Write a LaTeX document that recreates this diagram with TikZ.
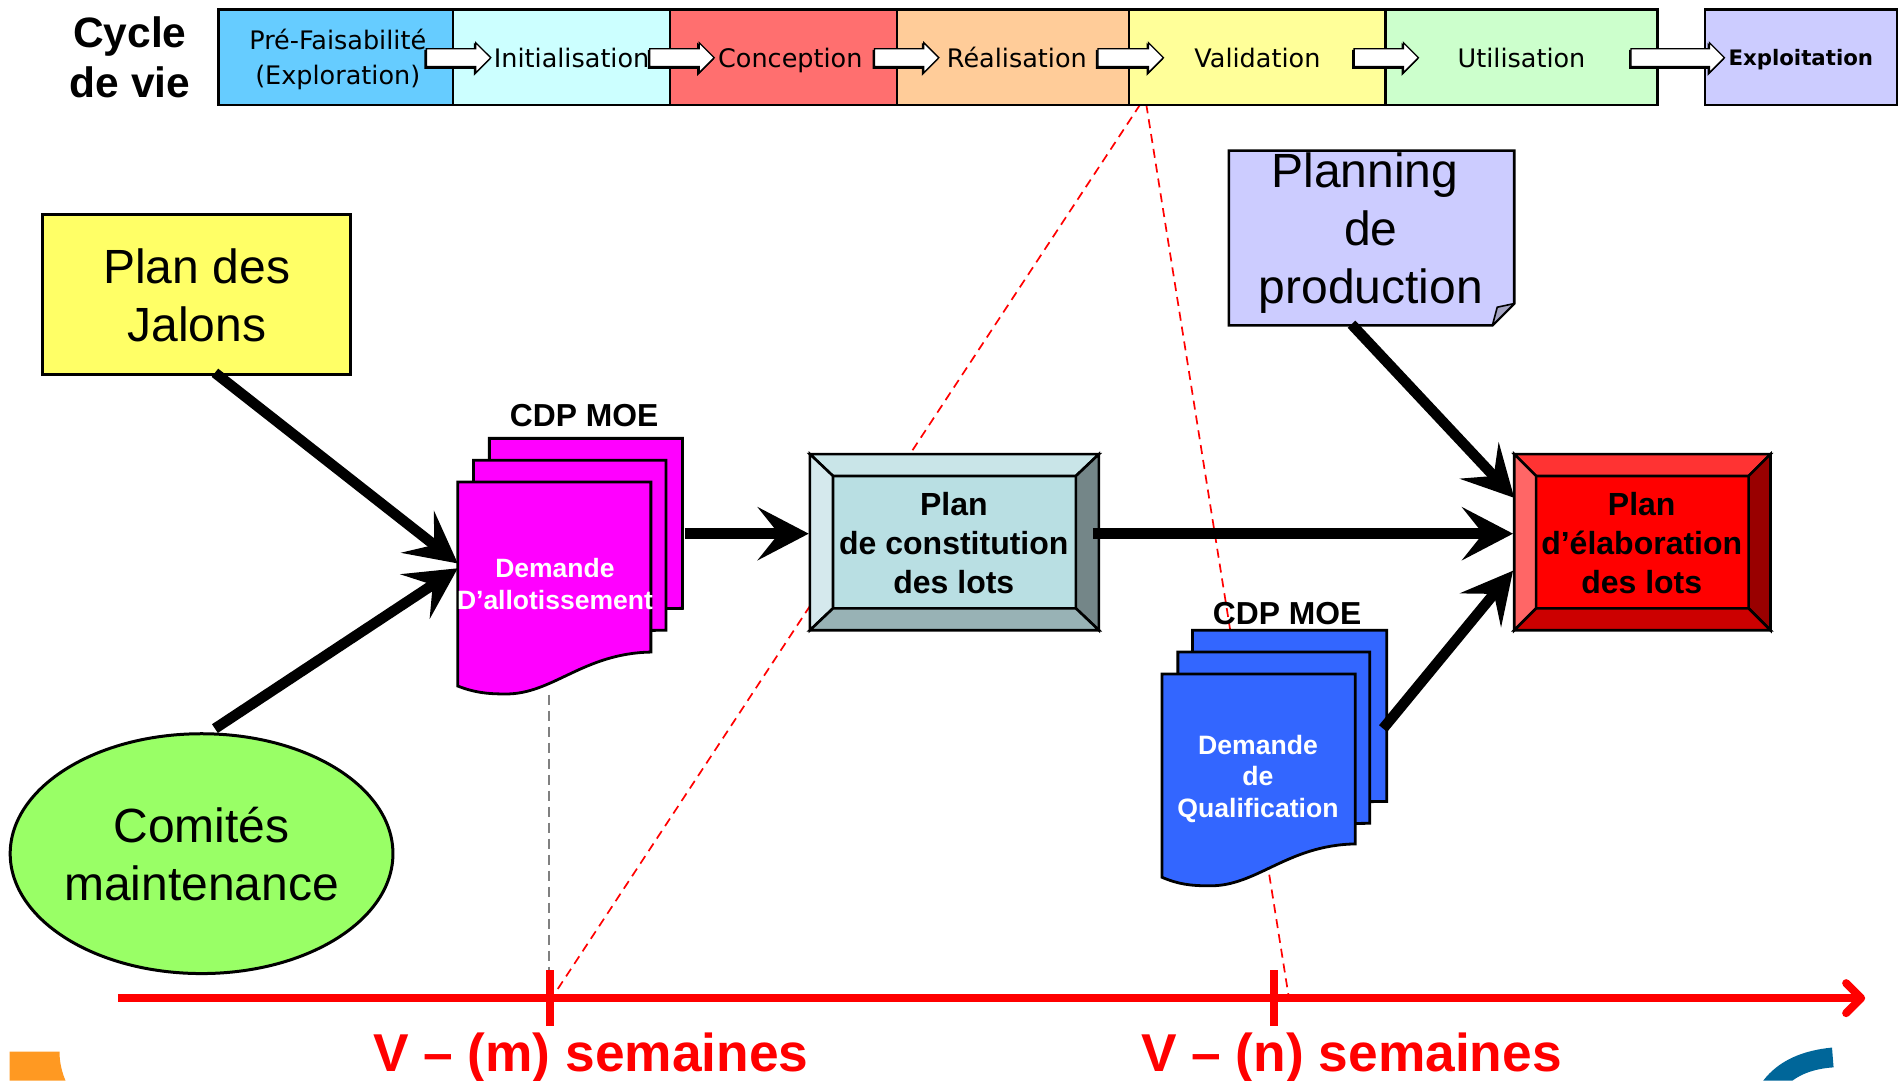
\documentclass[tikz,border=0pt]{standalone}
\usepackage{fontspec}
\setmainfont{Liberation Sans}
\newfontfamily\vfont{DejaVu Sans}
\usetikzlibrary{arrows.meta,shapes.geometric,shapes.arrows,shadows}
\newcommand\fsz[2]{\fontsize{#1pt}{#2pt}\selectfont}
\definecolor{cPre}{HTML}{66CCFF}
\definecolor{cIni}{HTML}{CCFFFF}
\definecolor{cCon}{HTML}{FF6F6F}
\definecolor{cRea}{HTML}{FFCC99}
\definecolor{cVal}{HTML}{FFFF99}
\definecolor{cUti}{HTML}{CCFFCC}
\definecolor{cExp}{HTML}{CCCCFF}
\definecolor{cYel}{HTML}{FFFF66}
\definecolor{cGrn}{HTML}{99FF66}
\definecolor{cMag}{HTML}{FF00FF}
\definecolor{cBlu}{HTML}{3366FF}
\definecolor{cFold}{HTML}{A3A3C2}
\tikzset{
  phase/.style={draw=black,line width=2.2pt,inner sep=0pt,minimum height={78.5*1.2143pt},font=\vfont\fsz{25.5}{35},align=center,text=black},
  oneline/.style={text height=20pt,text depth=0pt},
  blockarrow/.style={single arrow,draw=black,fill=white,line width=1.3pt,inner sep=0pt,inner ysep=8pt,
     single arrow head extend=6pt,single arrow tip angle=90,
     copy shadow={shadow xshift=-1.3pt,shadow yshift=-1.6pt,fill=black,draw=black}},
  bigtext/.style={font=\fsz{48}{58},align=center,text=black},
  plain/.style={draw=black,line width=3pt,inner sep=0pt},
  sheet/.style={draw=black,line width=2.8pt,line join=miter},
  doctext/.style={font=\bfseries\fsz{26.5}{31.6},text=white,align=center,inner sep=0pt},
  cdp/.style={font=\bfseries\fsz{31.8}{38},text=black,inner sep=0pt},
  bevtext/.style={font=\bfseries\fsz{32}{38.9},text=black,align=center,inner sep=0pt},
  bevel/.style={draw=black,line width=2.6pt,line join=miter},
  bigarrow/.style={draw=black,line width=10.5pt,-{Stealth[length=51pt,width=53pt,inset=21pt]}},
  reddash/.style={draw=red,line width=1.7pt,dash pattern=on 9pt off 6pt},
  greydash/.style={draw=gray,line width=2pt,dash pattern=on 10pt off 6pt},
  axisline/.style={draw=red,line width=8pt},
  ticks/.style={draw=red,line width=8pt},
  weeks/.style={font=\bfseries\fsz{53.3}{60},text=red,anchor=base,inner sep=0pt},
}
\begin{document}
\begin{tikzpicture}[x=1.2143pt,y=-1.2143pt]
\useasboundingbox (0,0) rectangle (1568,890);
\clip (0,0) rectangle (1568,890);

% logo fragments at the lower edge
\fill[color={rgb,255:red,255;green,153;blue,34}] (8,866) -- (49,866) .. controls (49,875) and (51,883) .. (54,890) -- (8,890) -- cycle;
\fill[color={rgb,255:red,0;green,102;blue,153}] (1508.7,862.7) -- (1510,879) .. controls (1495,880) and (1484,884) .. (1476,890) -- (1452,890) .. controls (1465,873) and (1485,865) .. (1508.7,862.7) -- cycle;

% dashed guide lines (behind everything)
\coordinate (rA) at (939,86);
\coordinate (rB) at (457,818);
\coordinate (rC) at (944,86);
\coordinate (rD) at (1061,819);
\coordinate (gA) at (452,572);
\coordinate (gB) at (452,799);
\draw[reddash] (rA) -- (rB);
\draw[reddash] (rC) -- (rD);
\draw[greydash] (gA) -- (gB);

% life-cycle strip
\node[phase,fill=cPre,minimum width={193*1.2143pt}] (p1) at (276.5,47) {\rule{0pt}{24.6pt}\hspace*{4pt}Pré-Faisabilité\\\hspace*{4pt}(Exploration)};
\node[phase,oneline,fill=cIni,minimum width={179*1.2143pt}] (p2) at (462.5,47) {\hspace*{20pt}Initialisation};
\node[phase,oneline,fill=cCon,minimum width={187*1.2143pt}] (p3) at (645.5,47) {\hspace*{13pt}Conception};
\node[phase,oneline,fill=cRea,minimum width={191*1.2143pt}] (p4) at (834.5,47) {\hspace*{7pt}Réalisation};
\node[phase,oneline,fill=cVal,minimum width={211*1.2143pt}] (p5) at (1035.5,47) {Validation};
\node[phase,oneline,fill=cUti,minimum width={224*1.2143pt}] (p6) at (1253,47) {Utilisation};
\node[phase,fill=cExp,minimum width={158*1.2143pt},font=\vfont\bfseries\fsz{21.3}{26},text height=16.5pt,text depth=0pt] (p7) at (1483,47) {Exploitation};
\node[blockarrow,minimum width=30pt,minimum height={53*1.2143pt}] (a1) at (374,47.5) {};
\node[blockarrow,minimum width=30pt,minimum height={53*1.2143pt}] (a2) at (558,47.5) {};
\node[blockarrow,minimum width=30pt,minimum height={53*1.2143pt}] (a3) at (743,47.5) {};
\node[blockarrow,minimum width=30pt,minimum height={54*1.2143pt}] (a4) at (927.5,47.5) {};
\node[blockarrow,minimum width=30pt,minimum height={53*1.2143pt}] (a5) at (1138,47.5) {};
\node[blockarrow,minimum width=30pt,minimum height={77*1.2143pt}] (a6) at (1378,47.5) {};
\node[font=\bfseries\fsz{42.5}{50},align=center,inner sep=0pt] (cycle) at (107,47.5) {Cycle\\de vie};

% sources
\node[plain,fill=cYel,bigtext,minimum width={254*1.2143pt},minimum height={131*1.2143pt}] (jal) at (162,242.5) {\rule{0pt}{37.4pt}Plan des\\Jalons};
\node[plain,ellipse,fill=cGrn,bigtext,inner xsep=-2.1pt,minimum height={197.5*1.2143pt}] (com) at (166,703) {Comités\\maintenance};
\filldraw[fill=cExp,draw=black,line width=2.6pt,line join=miter] (1012,124) -- (1247,124) -- (1247,250) -- (1229,268) -- (1012,268) -- cycle;
\filldraw[fill=cFold,draw=black,line width=1.6pt,line join=round] (1247,250) -- (1233,253) -- (1229,268) -- cycle;
\node[bigtext,inner sep=0pt] (pln) at (1129,192) {Planning\hspace*{12pt}\\de\\production};

% magenta document stack
\filldraw[sheet,fill=cMag] (403,361) -- (562,361) -- (562,501) -- (403,503) -- cycle;
\filldraw[sheet,fill=cMag] (390,379) -- (548.5,379) -- (548.5,519) -- (390,521) -- cycle;
\filldraw[sheet,fill=cMag] (377,397) -- (536,397) -- (536,537) .. controls (480,538) and (455,572) .. (416,571.5) .. controls (400,571.5) and (390,570) .. (377,565) -- cycle;
\node[doctext] (dal) at (457,481) {Demande\\D’allotissement};
\node[cdp] (cdpa) at (481,342) {CDP MOE};

% blue document stack
\filldraw[sheet,fill=cBlu] (982,519) -- (1142,519) -- (1142,660) -- (982,662) -- cycle;
\filldraw[sheet,fill=cBlu] (970,537) -- (1128,537) -- (1128,678) -- (970,680) -- cycle;
\filldraw[sheet,fill=cBlu] (957,555) -- (1116,555) -- (1116,695) .. controls (1060,696) and (1035,730) .. (996,729.5) .. controls (980,729.5) and (970,728) .. (957,722.5) -- cycle;
\node[doctext,font=\bfseries\fsz{26.6}{31.6}] (dql) at (1036,641.5) {Demande\\de\\Qualification};
\node[cdp] (cdpb) at (1060,505) {CDP MOE};

% bevelled box: Plan de constitution
\fill[color={rgb,255:red,185;green,223;blue,227}] (667,374) rectangle (905,519);
\filldraw[bevel,fill={rgb,255:red,201;green,229;blue,232}] (667,374) -- (905,374) -- (886,392) -- (686,392) -- cycle;
\filldraw[bevel,fill={rgb,255:red,213;green,233;blue,237}] (667,374) -- (686,392) -- (686,501) -- (667,519) -- cycle;
\filldraw[bevel,fill={rgb,255:red,116;green,134;blue,136}] (905,374) -- (886,392) -- (886,501) -- (905,519) -- cycle;
\filldraw[bevel,fill={rgb,255:red,152;green,178;blue,181}] (667,519) -- (686,501) -- (886,501) -- (905,519) -- cycle;
\node[bevtext] (pcl) at (785.5,447.2) {Plan\\de constitution\\des lots};

% bevelled box: Plan d'élaboration
\fill[red] (1247,374) rectangle (1458,519);
\filldraw[bevel,fill={rgb,255:red,255;green,51;blue,51}] (1247,374) -- (1458,374) -- (1440,392) -- (1265,392) -- cycle;
\filldraw[bevel,fill={rgb,255:red,255;green,102;blue,102}] (1247,374) -- (1265,392) -- (1265,501) -- (1247,519) -- cycle;
\filldraw[bevel,fill={rgb,255:red,153;green,0;blue,0}] (1458,374) -- (1440,392) -- (1440,501) -- (1458,519) -- cycle;
\filldraw[bevel,fill={rgb,255:red,204;green,0;blue,0}] (1247,519) -- (1265,501) -- (1440,501) -- (1458,519) -- cycle;
\node[bevtext] (pel) at (1352,447.2) {Plan\\d’élaboration\\des lots};

% thick connectors
\coordinate (jalOut) at (177,307);
\coordinate (comOut) at (177,600);
\coordinate (dalInA) at (377,464);
\coordinate (dalInB) at (377,468);
\coordinate (dalOut) at (564,439.5);
\coordinate (pclIn) at (666,439.5);
\coordinate (pclOut) at (900,439.5);
\coordinate (pelInB) at (1246,439.5);
\coordinate (plnOut) at (1113,267);
\coordinate (pelInA) at (1247,410);
\coordinate (dqlOut) at (1139,600);
\coordinate (pelInC) at (1246,470);
\draw[bigarrow] (jalOut) -- (dalInA);
\draw[bigarrow] (comOut) -- (dalInB);
\draw[bigarrow] (dalOut) -- (pclIn);
\draw[bigarrow] (pclOut) -- (pelInB);
\draw[bigarrow] (plnOut) -- (pelInA);
\draw[bigarrow] (dqlOut) -- (pelInC);

% time axis
\coordinate (axA) at (97,822);
\coordinate (axB) at (1536,822);
\coordinate (tmA) at (453,799);
\coordinate (tmB) at (453,845);
\coordinate (tnA) at (1049,799);
\coordinate (tnB) at (1049,845);
\draw[axisline,-{Straight Barb[round,length=15pt,width=30pt]}] (axA) -- (axB);
\draw[ticks] (tmA) -- (tmB);
\draw[ticks] (tnA) -- (tnB);
\node[weeks] (vm) at (486.5,882.6) {V – (m) semaines};
\node[weeks] (vn) at (1113,882.6) {V – (n) semaines};
\end{tikzpicture}
\end{document}
